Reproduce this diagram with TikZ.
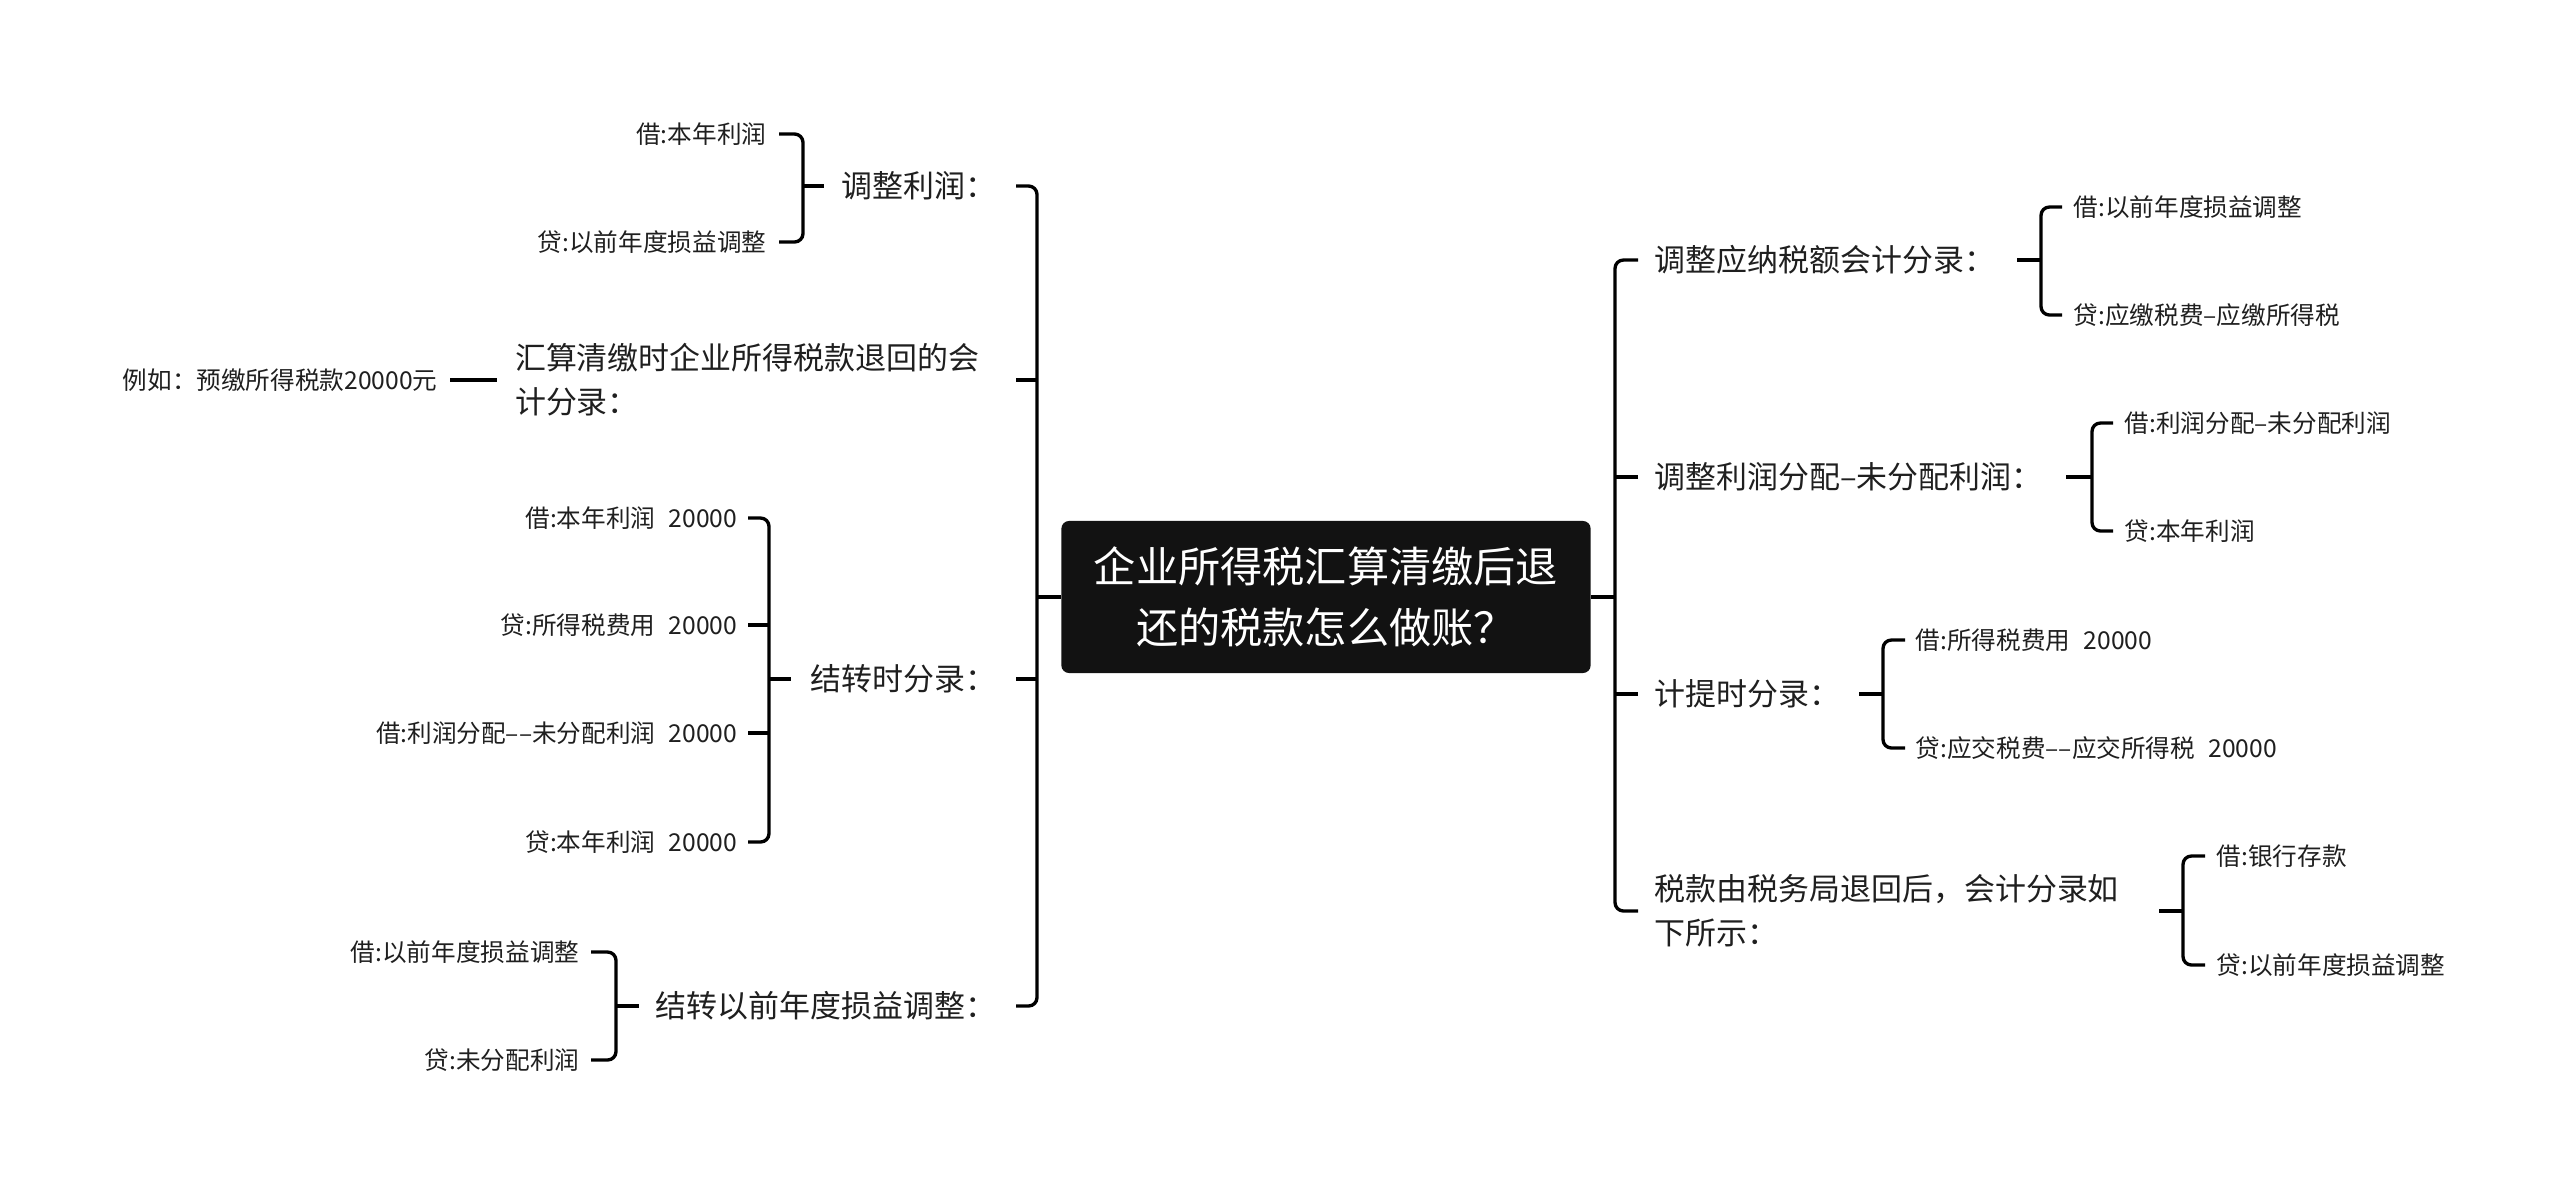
\documentclass[tikz,border=0pt]{standalone}
\usepackage{fontspec}
\setmainfont{Noto Sans CJK SC}
\newcommand{\amt}{\hspace{0.55em}20000}

\begin{document}
\begin{tikzpicture}[x=0.01cm, y=-0.01cm,
  root/.style={fill=black!93, text=white, rounded corners=2.2pt, minimum width=5.29cm,
    minimum height=1.52cm, align=center, inner sep=0pt, font=\fontsize{12}{17.4}\selectfont},
  topic/.style={inner sep=0pt, text=black!88, font=\fontsize{8.8}{12.5}\selectfont},
  leaf/.style={inner sep=0pt, text=black!88, font=\fontsize{7}{9}\selectfont},
  link/.style={line width=0.95pt, rounded corners=2.4pt}]
  \useasboundingbox (0,0) rectangle (2560,1193);

  \node[root] (root) at (1326,597) {企业所得税汇算清缴后退\\还的税款怎么做账？};

  % left side
  \coordinate (lt) at (1037,597);
  \coordinate (ltk) at (1016,597);
  \node[topic, anchor=east] (l1) at (997,186) {调整利润：};
  \node[topic, anchor=east, align=left] (l2) at (980,380) {汇算清缴时企业所得税款退回的会\\计分录：};
  \node[topic, anchor=east] (l3) at (997,679) {结转时分录：};
  \node[topic, anchor=east] (l4) at (997,1006) {结转以前年度损益调整：};

  \node[leaf, anchor=east] (l1a) at (767,134) {借:本年利润};
  \node[leaf, anchor=east] (l1b) at (767,242) {贷:以前年度损益调整};
  \node[leaf, anchor=east] (l2a) at (438,380) {例如：预缴所得税款20000元};
  \node[leaf, anchor=east] (l3a) at (738,518) {借:本年利润\amt};
  \node[leaf, anchor=east] (l3b) at (738,625) {贷:所得税费用\amt};
  \node[leaf, anchor=east] (l3c) at (738,733) {借:利润分配––未分配利润\amt};
  \node[leaf, anchor=east] (l3d) at (738,842) {贷:本年利润\amt};
  \node[leaf, anchor=east] (l4a) at (580,952) {借:以前年度损益调整};
  \node[leaf, anchor=east] (l4b) at (580,1060) {贷:未分配利润};

  \coordinate (lb1) at (803,186);
  \coordinate (lb3) at (769,679);
  \coordinate (lb4) at (616,1006);

  \draw[link] (root.west) -- (lt);
  \draw[link] (l1.east -| ltk) -| (lt) |- (l4.east -| ltk);
  \draw[link] (l2.east -| ltk) -- (l2.east -| lt);
  \draw[link] (l3.east -| ltk) -- (l3.east -| lt);

  \draw[link] ([xshift=0.12cm]l1a.east) -| (lb1) |- ([xshift=0.12cm]l1b.east);
  \draw[link] (lb1) -- ([xshift=-0.17cm]l1.west);
  \draw[link] ([xshift=0.12cm]l2a.east) -- ([xshift=-0.17cm]l2.west);
  \draw[link] ([xshift=0.1cm]l3a.east) -| (lb3) |- ([xshift=0.1cm]l3d.east);
  \draw[link] ([xshift=0.1cm]l3b.east) -- (l3b.east -| lb3);
  \draw[link] ([xshift=0.1cm]l3c.east) -- (l3c.east -| lb3);
  \draw[link] (lb3) -- ([xshift=-0.19cm]l3.west);
  \draw[link] ([xshift=0.11cm]l4a.east) -| (lb4) |- ([xshift=0.11cm]l4b.east);
  \draw[link] (lb4) -- ([xshift=-0.16cm]l4.west);

  % right side
  \coordinate (rt) at (1615,597);
  \coordinate (rtk) at (1638,597);
  \node[topic, anchor=west] (r1) at (1654,260) {调整应纳税额会计分录：};
  \node[topic, anchor=west] (r2) at (1654,477) {调整利润分配–未分配利润：};
  \node[topic, anchor=west] (r3) at (1654,694) {计提时分录：};
  \node[topic, anchor=west, align=left] (r4) at (1654,911) {税款由税务局退回后，会计分录如\\下所示：};

  \node[leaf, anchor=west] (r1a) at (2073,207) {借:以前年度损益调整};
  \node[leaf, anchor=west] (r1b) at (2073,315) {贷:应缴税费–应缴所得税};
  \node[leaf, anchor=west] (r2a) at (2124,423) {借:利润分配–未分配利润};
  \node[leaf, anchor=west] (r2b) at (2124,531) {贷:本年利润};
  \node[leaf, anchor=west] (r3a) at (1915,640) {借:所得税费用\amt};
  \node[leaf, anchor=west] (r3b) at (1915,748) {贷:应交税费––应交所得税\amt};
  \node[leaf, anchor=west] (r4a) at (2216,856) {借:银行存款};
  \node[leaf, anchor=west] (r4b) at (2216,965) {贷:以前年度损益调整};

  \coordinate (rb1) at (2041,260);
  \coordinate (rb2) at (2092,477);
  \coordinate (rb3) at (1883,694);
  \coordinate (rb4) at (2183,911);

  \draw[link] (root.east) -- (rt);
  \draw[link] (r1.west -| rtk) -| (rt) |- (r4.west -| rtk);
  \draw[link] (r2.west -| rtk) -- (r2.west -| rt);
  \draw[link] (r3.west -| rtk) -- (r3.west -| rt);

  \draw[link] ([xshift=-0.11cm]r1a.west) -| (rb1) |- ([xshift=-0.11cm]r1b.west);
  \draw[link] (rb1) -- ([xshift=0.21cm]r1.east);
  \draw[link] ([xshift=-0.11cm]r2a.west) -| (rb2) |- ([xshift=-0.11cm]r2b.west);
  \draw[link] (rb2) -- ([xshift=0.23cm]r2.east);
  \draw[link] ([xshift=-0.1cm]r3a.west) -| (rb3) |- ([xshift=-0.1cm]r3b.west);
  \draw[link] (rb3) -- ([xshift=0.18cm]r3.east);
  \draw[link] ([xshift=-0.11cm]r4a.west) -| (rb4) |- ([xshift=-0.11cm]r4b.west);
  \draw[link] (rb4) -- ([xshift=0.39cm]r4.east);
\end{tikzpicture}
\end{document}
